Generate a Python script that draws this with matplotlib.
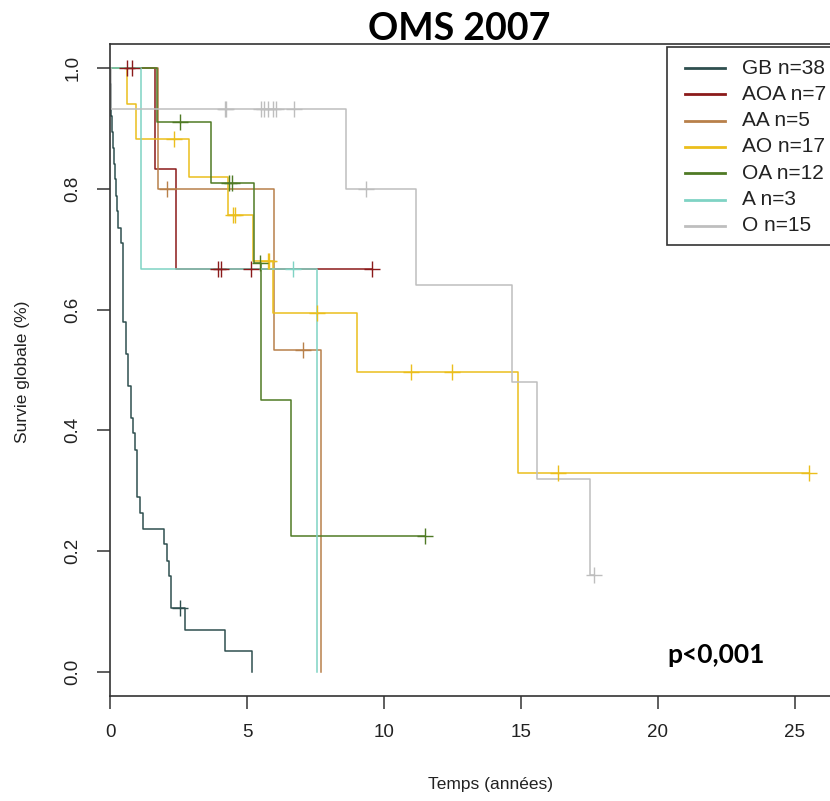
import matplotlib
matplotlib.use("Agg")
import matplotlib.pyplot as plt
import numpy as np
from matplotlib.lines import Line2D
from matplotlib.patches import Rectangle

plt.rcParams["font.family"] = ["Liberation Sans", "DejaVu Sans"]

# step curves: times of each drop and survival level after it, end of follow-up, censor times
groups = ["GB n=38", "AOA n=7", "AA n=5", "AO n=17", "OA n=12", "A n=3", "O n=15"]
colors = ["#2F4F4F", "#8B1A1A", "#B8804A", "#EBBE1C", "#4F7A25", "#7FD3C4", "#BEBEBE"]

gb_time = [0.01, 0.03, 0.05, 0.08, 0.11, 0.15, 0.18, 0.21, 0.24, 0.30, 0.39, 0.46,
           0.58, 0.67, 0.75, 0.85, 0.91, 1.00, 1.10, 1.19, 1.98, 2.07, 2.17, 2.22,
           2.74, 4.20, 5.17]
gb_surv = [0.974, 0.947, 0.921, 0.895, 0.868, 0.842, 0.816, 0.789, 0.763, 0.736,
           0.711, 0.579, 0.526, 0.474, 0.421, 0.395, 0.368, 0.289, 0.263, 0.237,
           0.211, 0.184, 0.158, 0.105, 0.070, 0.035, 0.0]
gb_end = 5.17
gb_cens = [2.55]

aoa_time = [1.64, 2.41]
aoa_surv = [0.833, 0.667]
aoa_end = 9.55
aoa_cens = [0.61, 0.79, 3.95, 4.04, 5.15, 9.55]

aa_time = [1.76, 5.99, 7.72]
aa_surv = [0.80, 0.533, 0.0]
aa_end = 7.72
aa_cens = [2.08, 7.03]

ao_time = [0.61, 0.95, 2.90, 4.32, 5.23, 5.96, 9.00, 14.88]
ao_surv = [0.941, 0.882, 0.819, 0.756, 0.680, 0.594, 0.496, 0.330]
ao_end = 25.5
ao_cens = [2.34, 4.48, 4.56, 5.75, 5.82, 7.54, 11.0, 12.5, 16.35, 25.5]

oa_time = [1.70, 3.69, 5.26, 5.52, 6.59]
oa_surv = [0.91, 0.81, 0.677, 0.451, 0.225]
oa_end = 11.5
oa_cens = [2.55, 4.34, 4.44, 5.47, 11.5]

a_time = [1.12, 7.55]
a_surv = [0.667, 0.0]
a_end = 7.55
a_cens = [6.67]

o_time = [0.05, 8.62, 11.17, 14.66, 15.57, 17.52]
o_surv = [0.933, 0.80, 0.64, 0.48, 0.32, 0.16]
o_end = 17.66
o_cens = [4.20, 4.24, 5.50, 5.62, 5.78, 5.94, 6.06, 6.72, 9.34, 17.66]

curves = [
    (gb_time, gb_surv, gb_end, gb_cens),
    (aoa_time, aoa_surv, aoa_end, aoa_cens),
    (aa_time, aa_surv, aa_end, aa_cens),
    (ao_time, ao_surv, ao_end, ao_cens),
    (oa_time, oa_surv, oa_end, oa_cens),
    (a_time, a_surv, a_end, a_cens),
    (o_time, o_surv, o_end, o_cens),
]

x_ticks = [0, 5, 10, 15, 20, 25]
y_ticks = [0.0, 0.2, 0.4, 0.6, 0.8, 1.0]

W, H = 830, 801
fig = plt.figure(figsize=(W / 100, H / 100), dpi=100)
ax = fig.add_axes([110 / W, 1 - 696 / H, (836 - 110) / W, (696 - 44) / H])

for (t, s, end, cens), col in zip(curves, colors):
    xs = np.r_[0.0, t, end]
    ys = np.r_[1.0, s, s[-1]]
    ax.step(xs, ys, where="post", color=col, lw=1.1, zorder=2)
    cens = np.asarray(cens)
    idx = np.searchsorted(xs, cens, side="right") - 1
    ax.plot(cens, ys[idx], ls="none", marker="+", ms=11, mew=1.0, color=col, zorder=3)

ax.set_xlim(0, 26.5)
ax.set_ylim(-0.04, 1.04)
ax.set_xticks(x_ticks)
ax.set_xticklabels([str(v) for v in x_ticks])
ax.set_yticks(y_ticks)
ax.set_yticklabels([f"{v:.1f}" for v in y_ticks], rotation=90, va="center")
ax.tick_params(direction="out", length=9.5, width=1.1, colors="#333333",
               labelsize=13.5, labelcolor="#222222", pad=11)
for sp in ax.spines.values():
    sp.set_linewidth(1.2)
    sp.set_color("#333333")

fig.text(490 / W, 1 - 785 / H, "Temps (années)", ha="center", va="center",
         fontsize=12.5, color="#222222")
fig.text(22 / W, 1 - 372 / H, "Survie globale (%)", ha="center", va="center",
         rotation=90, fontsize=12.5, color="#222222")
fig.text(459 / W, 1 - 29 / H, "OMS 2007", ha="center", va="center",
         fontsize=27, fontweight="bold", family=["Lato", "DejaVu Sans"])
fig.text(667 / W, 1 - 655 / H, "p<0,001", ha="left", va="center",
         fontsize=19, fontweight="bold", family=["Lato", "DejaVu Sans"])

# legend box
fig.patches.append(Rectangle((667 / W, 1 - 245 / H), (845 - 667) / W, (245 - 47) / H,
                             transform=fig.transFigure, fill=True, fc="white",
                             ec="#333333", lw=1.2, zorder=5))
row0, dy = 68, 26.3
for i, (lab, col) in enumerate(zip(groups, colors)):
    yy = 1 - (row0 + i * dy) / H
    fig.lines.append(Line2D([685 / W, 725 / W], [yy, yy], transform=fig.transFigure,
                            color=col, lw=2.0, zorder=6))
    fig.text(742 / W, yy, lab, ha="left", va="center", fontsize=15,
             color="#222222", zorder=6)

fig.savefig("out.png", dpi=100)
